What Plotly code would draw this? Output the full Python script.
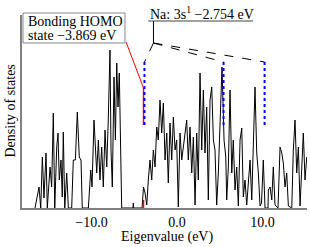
import plotly.graph_objects as go

# Density of states (eigenvalue in eV, DOS in arbitrary units)
energy = [-16.61, -16.37, -16.14, -15.94, -15.75, -15.56, -15.32, -15.17, -14.85, -14.66,
          -14.47, -14.30, -14.07, -13.92, -13.77, -13.57, -13.42, -13.30, -13.13, -12.90,
          -12.71, -12.32, -12.13, -11.89, -11.66, -11.43, -11.23, -11.08, -10.37, -10.09,
          -9.94, -9.71, -9.39, -9.20, -9.01, -8.81, -8.62, -8.42, -8.22, -8.04,
          -7.84, -7.72, -7.57, -7.37, -7.21, -7.05, -6.90, -6.75, -6.58, -6.47,
          -5.15, -5.11, -5.08, -4.09, -3.92, -3.74, -3.54, -3.36, -3.16, -2.96,
          -2.77, -2.57, -2.37, -2.19, -1.99, -1.79, -1.60, -1.40, -1.20, -1.02,
          -0.82, -0.62, -0.43, -0.23, -0.04, 0.15, 0.35, 0.55, 0.74, 0.94,
          1.13, 1.32, 1.52, 1.72, 1.91, 2.11, 2.30, 2.49, 2.69, 2.89,
          3.08, 3.27, 3.47, 3.66, 3.86, 4.06, 4.25, 4.44, 4.64, 4.83,
          5.03, 5.26, 5.50, 5.70, 5.81, 6.00, 6.20, 6.40, 6.58, 6.78,
          6.98, 7.17, 7.37, 7.57, 7.75, 7.95, 8.15, 8.34, 8.54, 8.74,
          8.92, 9.12, 9.32, 9.51, 9.71, 9.88, 10.09, 10.29, 10.64, 10.68,
          10.88, 11.08, 11.26, 11.46, 11.81, 12.05, 12.25, 12.43, 12.63, 12.83,
          13.02, 13.42, 13.60, 13.80, 14.00, 14.19, 14.39, 14.58, 14.77, 14.97,
          15.17]
dos = [0, 11, 21, 0, 51, 10, 55, 0, 41, 21,
       95, 0, 61, 75, 28, 48, 11, 76, 0, 35,
       0, 0, 48, 48, 96, 51, 48, 0, 0, 38,
       21, 88, 35, 68, 28, 61, 21, 78, 41, 88,
       158, 58, 21, 131, 68, 145, 101, 135, 68, 0,
       0, 5, 0, 0, 21, 15, 3, 28, 48, 28,
       58, 41, 81, 68, 108, 75, 105, 48, 75, 25,
       85, 48, 91, 58, 68, 1, 75, 48, 61, 71,
       88, 48, 81, 35, 71, 3, 75, 28, 135, 58,
       118, 55, 101, 8, 108, 121, 68, 58, 3, 35,
       81, 141, 68, 51, 8, 41, 118, 35, 68, 18,
       41, 2, 68, 80, 11, 28, 3, 21, 48, 8,
       71, 121, 55, 35, 2, 5, 48, 0, 0, 18,
       21, 8, 41, 3, 0, 61, 55, 45, 21, 35,
       2, 0, 58, 88, 35, 61, 2, 45, 75, 28,
       51]

homo_energy = -3.869
na_3s_energy = -2.754
na_levels = [-3.869, 5.38, 10.18]
tick_vals = [-10.0, 0.0, 10.0]
tick_text = ["\u221210.0", "0.0", "10.0"]

FONT = "Liberation Serif"
X_RANGE = [-18.13, 15.2]
Y_RANGE = [0, 193]

fig = go.Figure()
fig.add_trace(go.Scatter(x=energy, y=dos, mode="lines",
                         line=dict(color="black", width=1), showlegend=False,
                         hoverinfo="skip"))

shapes = []
shapes.append(dict(type="line", xref="x", yref="y", x0=homo_energy - 0.05, x1=homo_energy - 0.05,
                   y0=0, y1=8, line=dict(color="red", width=1.5)))
shapes.append(dict(type="line", xref="x", yref="y", x0=-5.96, y0=166, x1=homo_energy - 0.05, y1=120,
                   line=dict(color="red", width=1)))
shapes.append(dict(type="line", xref="x", yref="y", x0=homo_energy - 0.05, y0=120,
                   x1=homo_energy - 0.05, y1=83, line=dict(color="red", width=1.5)))
for e in na_levels:
    shapes.append(dict(type="line", xref="x", yref="y", x0=e + 0.06, x1=e + 0.06, y0=83, y1=146,
                       line=dict(color="blue", width=2, dash="dot")))
for e in na_levels:
    shapes.append(dict(type="line", xref="x", yref="y", x0=na_3s_energy, y0=165, x1=e + 0.06, y1=146,
                       line=dict(color="black", width=1, dash="dash")))
shapes.append(dict(type="line", xref="x", yref="y", x0=na_3s_energy, y0=165, x1=na_3s_energy, y1=187,
                   line=dict(color="black", width=1)))
shapes.append(dict(type="line", xref="x", yref="y", x0=-3.39, y0=187, x1=8.89, y1=187,
                   line=dict(color="#444", width=1)))
shapes.append(dict(type="rect", xref="paper", yref="paper", x0=0.0035, x1=0.3614, y0=0.855, y1=1.0104,
                   line=dict(color="#888", width=1), fillcolor="white", layer="above"))

txt = dict(family=FONT, size=14, color="black")
annotations = [
    dict(text="Bonding HOMO", x=(26 - 22) / 285, y=0.967, xref="paper", yref="paper", xanchor="left",
         yanchor="middle", showarrow=False, font=txt),
    dict(text="state \u22123.869 eV", x=(26 - 22) / 285, y=0.894, xref="paper", yref="paper",
         xanchor="left", yanchor="middle", showarrow=False, font=txt),
    dict(text="Na: 3s<sup>1</sup> \u22122.754 eV", x=(148 - 22) / 285, y=(208 - 13) / 193, xref="paper",
         yref="paper", xanchor="left", yanchor="middle", showarrow=False, font=txt),
    dict(text="Eigenvalue (eV)", x=(167 - 22) / 285, y=(208 - 237) / 193, xref="paper",
         yref="paper", xanchor="center", yanchor="middle", showarrow=False, font=txt),
    dict(text="Density of states", x=(10 - 22) / 285, y=0.5, xref="paper", textangle=-90,
         yref="paper", xanchor="center", yanchor="middle", showarrow=False, font=txt),
]

fig.update_layout(
    width=310, height=247,
    margin=dict(l=22, r=3, t=15, b=39, autoexpand=False),
    paper_bgcolor="white", plot_bgcolor="white",
    font=txt,
    shapes=shapes, annotations=annotations,
    xaxis=dict(range=X_RANGE, showgrid=False, zeroline=False, showline=True, automargin=False,
               linecolor="#808080", linewidth=2, ticks="", tickvals=tick_vals, ticktext=tick_text,
               tickfont=txt),
    yaxis=dict(range=Y_RANGE, showgrid=False, zeroline=False, showline=True, automargin=False,
               linecolor="#808080", linewidth=2, ticks="", showticklabels=False),
)

fig.write_html("out.html", config={"displayModeBar": False, "staticPlot": True},
               post_script="document.body.style.margin='0';document.body.style.overflow='hidden';")
